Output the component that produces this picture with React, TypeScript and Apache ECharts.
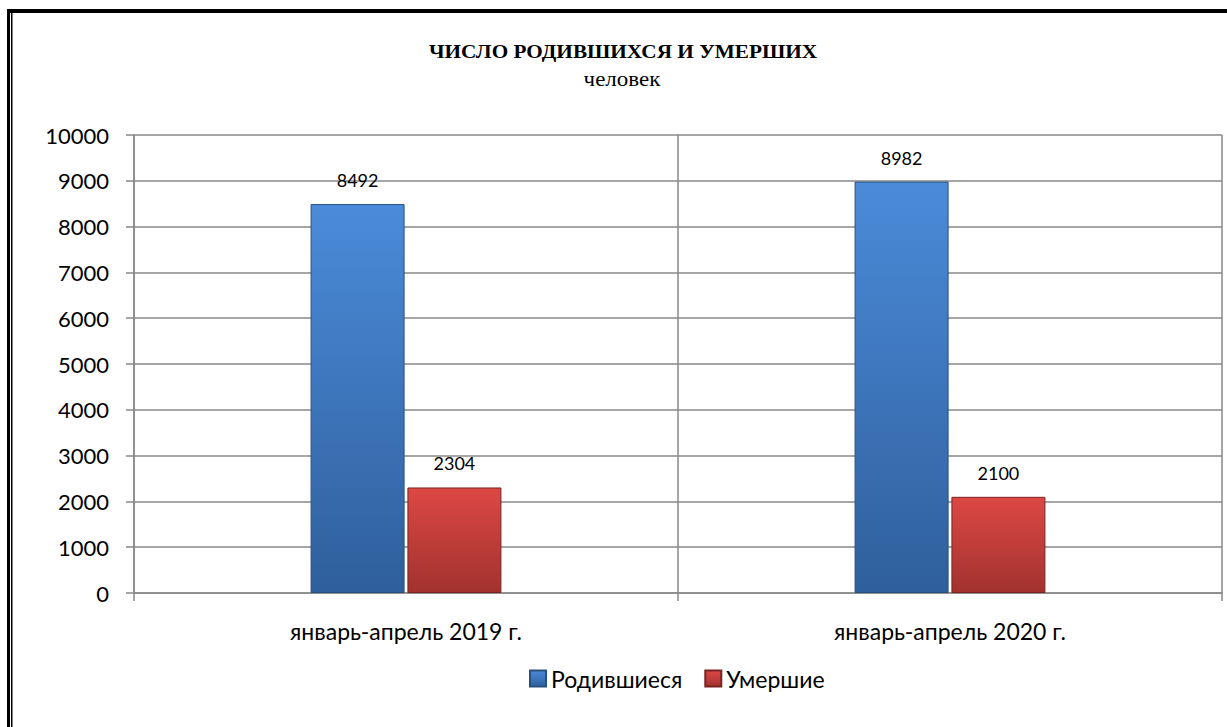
import React, { useEffect, useRef } from "react";
import * as echarts from "echarts";

const categories = ["январь-апрель 2019 г.", "январь-апрель 2020 г."];
const born = [8492, 8982];
const died = [2304, 2100];
const seriesNames = ["Родившиеся", "Умершие"];
const titleText = "ЧИСЛО РОДИВШИХСЯ И УМЕРШИХ";
const subtitleText = "человек";

const SANS = "Lato, 'Open Sans', sans-serif";
const SERIF = "'Liberation Serif', 'Times New Roman', serif";

export default function App() {
  const ref = useRef<HTMLDivElement>(null);
  useEffect(() => {
    document.body.style.margin = "0";
    const chart = echarts.init(ref.current!, undefined, { renderer: "svg" });
    const grad = (a: string, b: string) =>
      new echarts.graphic.LinearGradient(0, 0, 0, 1, [
        { offset: 0, color: a },
        { offset: 1, color: b },
      ]);
    chart.setOption({
      animation: false,
      backgroundColor: "#ffffff",
      graphic: [
        { type: "rect", shape: { x: 7, y: 9, width: 3, height: 718 }, style: { fill: "#000" } },
        { type: "rect", shape: { x: 11, y: 9, width: 1.5, height: 718 }, style: { fill: "#000" } },
        { type: "rect", shape: { x: 7, y: 9, width: 1220, height: 4 }, style: { fill: "#000" } },
        {
          type: "text",
          x: 623,
          y: 52,
          scaleX: 1.18,
          style: {
            text: titleText,
            fontFamily: SERIF,
            fontSize: 18,
            fontWeight: "bold",
            fill: "#000",
            align: "center",
            verticalAlign: "middle",
          },
        },
        {
          type: "text",
          x: 622,
          y: 80,
          scaleX: 1.15,
          style: {
            text: subtitleText,
            fontFamily: SERIF,
            fontSize: 20,
            fill: "#000",
            align: "center",
            verticalAlign: "middle",
          },
        },
      ],
      legend: {
        data: seriesNames,
        top: 662,
        left: 524,
        icon: "rect",
        itemWidth: 16,
        itemHeight: 16,
        itemGap: 22,
        textStyle: { fontFamily: SANS, fontSize: 23, color: "#000" },
      },
      grid: { left: 134, right: 5, top: 135, bottom: 134, containLabel: false },
      xAxis: {
        type: "category",
        data: categories,
        axisLine: { show: true, lineStyle: { color: "#888", width: 1.5 } },
        axisTick: { show: true, length: 8, lineStyle: { color: "#888", width: 1.5 } },
        splitLine: { show: true, lineStyle: { color: "#888", width: 1.5 } },
        axisLabel: { fontFamily: SANS, fontSize: 23, color: "#000", margin: 26 },
      },
      yAxis: {
        type: "value",
        min: 0,
        max: 10000,
        interval: 1000,
        axisLine: { show: true, lineStyle: { color: "#888", width: 1.5 } },
        axisTick: { show: true, length: 8, lineStyle: { color: "#888", width: 1.5 } },
        splitLine: { show: true, lineStyle: { color: "#888", width: 1.5 } },
        axisLabel: {
          fontFamily: SANS,
          fontSize: 22,
          color: "#000",
          margin: 25,
          formatter: (v: number) => String(v),
        },
      },
      series: [
        {
          name: seriesNames[0],
          type: "bar",
          data: born,
          barWidth: 94,
          barGap: "3%",
          itemStyle: { color: grad("#4b8bd9", "#2f5f9c"), borderColor: "#28507f", borderWidth: 1 },
          label: { show: true, position: "top", distance: 15, fontFamily: SANS, fontSize: 18, color: "#000" },
        },
        {
          name: seriesNames[1],
          type: "bar",
          data: died,
          barWidth: 94,
          itemStyle: { color: grad("#dc4844", "#a2322f"), borderColor: "#7a2320", borderWidth: 1 },
          label: { show: true, position: "top", distance: 15, fontFamily: SANS, fontSize: 18, color: "#000" },
        },
      ],
    });
    return () => chart.dispose();
  }, []);
  return (
    <div
      ref={ref}
      style={{ position: "fixed", left: 0, top: 0, width: 1227, height: 727 }}
    />
  );
}
